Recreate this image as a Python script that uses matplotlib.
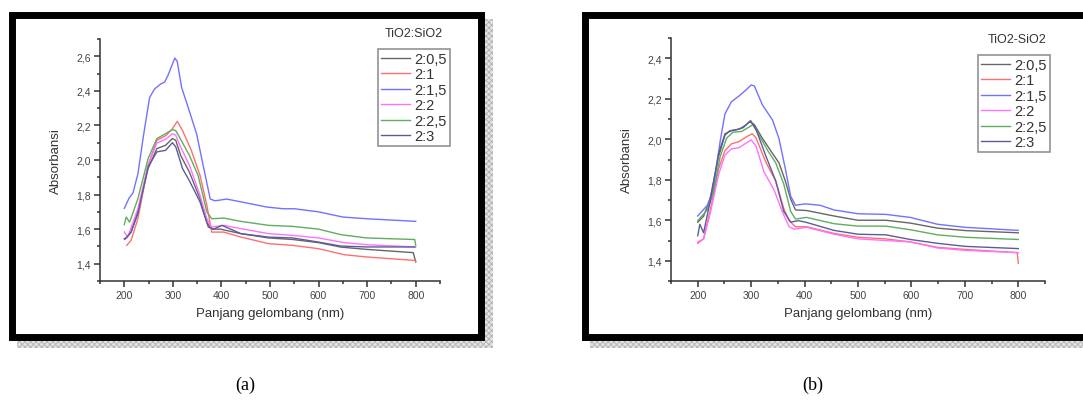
import matplotlib
matplotlib.use('Agg')
import matplotlib.pyplot as plt
from matplotlib.patches import Rectangle

'''
Data (read from the picture)
'''
labels = ['2:0,5', '2:1', '2:1,5', '2:2', '2:2,5', '2:3']
colors = ['#666666', '#ff6f6f', '#7272ff', '#ff72ff', '#5fae5f', '#5c5c9c']

# panel (a)  TiO2:SiO2
a05_x = [200, 205, 214, 228, 249, 267, 285, 299, 306, 316, 334, 356, 370, 380, 398, 440, 497, 547, 600, 646, 699, 795, 800]
a05_y = [1.545, 1.55, 1.583, 1.70, 1.95, 2.066, 2.085, 2.124, 2.114, 2.027, 1.93, 1.776, 1.64, 1.60, 1.60, 1.574, 1.549, 1.54, 1.522, 1.496, 1.483, 1.464, 1.41]
a1_x = [205, 214, 228, 249, 267, 285, 299, 309, 320, 338, 356, 370, 380, 405, 440, 497, 547, 600, 653, 699, 798, 800]
a1_y = [1.506, 1.535, 1.66, 1.97, 2.114, 2.14, 2.18, 2.224, 2.17, 2.056, 1.91, 1.738, 1.583, 1.583, 1.554, 1.516, 1.506, 1.487, 1.452, 1.439, 1.419, 1.415]
a15_x = [200, 210, 218, 228, 240, 252, 262, 275, 283, 290, 304, 309, 318, 332, 349, 363, 377, 387, 411, 445, 493, 527, 550, 600, 650, 700, 800]
a15_y = [1.72, 1.78, 1.81, 1.92, 2.15, 2.36, 2.41, 2.44, 2.45, 2.49, 2.59, 2.57, 2.42, 2.30, 2.15, 1.96, 1.774, 1.764, 1.774, 1.755, 1.728, 1.718, 1.718, 1.70, 1.67, 1.66, 1.645]
a2_x = [200, 207, 228, 249, 267, 285, 299, 306, 316, 334, 356, 370, 380, 405, 440, 497, 547, 600, 653, 699, 798, 800]
a2_y = [1.583, 1.554, 1.718, 1.97, 2.098, 2.12, 2.152, 2.143, 2.075, 1.97, 1.795, 1.66, 1.612, 1.622, 1.603, 1.574, 1.564, 1.549, 1.522, 1.51, 1.497, 1.495]
a25_x = [200, 204, 211, 228, 249, 267, 285, 299, 306, 316, 334, 352, 370, 380, 405, 440, 497, 547, 600, 646, 699, 798, 800]
a25_y = [1.626, 1.67, 1.64, 1.776, 2.008, 2.124, 2.152, 2.176, 2.17, 2.12, 2.027, 1.91, 1.70, 1.66, 1.664, 1.645, 1.622, 1.616, 1.60, 1.568, 1.549, 1.54, 1.506]
a3_x = [201, 214, 228, 249, 267, 285, 299, 306, 320, 334, 356, 373, 384, 401, 440, 497, 547, 600, 646, 699, 798]
a3_y = [1.541, 1.583, 1.69, 1.96, 2.047, 2.056, 2.10, 2.076, 1.95, 1.88, 1.757, 1.612, 1.60, 1.622, 1.574, 1.554, 1.549, 1.525, 1.502, 1.497, 1.497]

# panel (b)  TiO2-SiO2
b05_x = [200, 211, 223, 239, 251, 260, 272, 285, 297, 306, 321, 340, 352, 364, 374, 383, 404, 455, 500, 552, 598, 649, 701, 800]
b05_y = [1.59, 1.62, 1.704, 1.914, 2.02, 2.042, 2.047, 2.057, 2.087, 2.072, 2.005, 1.93, 1.884, 1.794, 1.704, 1.651, 1.648, 1.621, 1.60, 1.60, 1.586, 1.561, 1.549, 1.538]
b1_x = [200, 211, 223, 239, 251, 263, 278, 291, 302, 309, 328, 346, 361, 371, 383, 404, 455, 500, 552, 598, 649, 701, 798, 800]
b1_y = [1.486, 1.508, 1.644, 1.854, 1.944, 1.977, 1.989, 2.012, 2.027, 2.007, 1.884, 1.794, 1.659, 1.598, 1.568, 1.568, 1.535, 1.516, 1.508, 1.493, 1.466, 1.456, 1.44, 1.388]
b15_x = [200, 208, 218, 229, 242, 251, 263, 278, 291, 300, 306, 321, 340, 352, 364, 374, 383, 401, 429, 455, 500, 552, 598, 649, 701, 800]
b15_y = [1.621, 1.644, 1.674, 1.749, 1.99, 2.125, 2.185, 2.215, 2.245, 2.268, 2.263, 2.17, 2.095, 2.004, 1.854, 1.719, 1.674, 1.681, 1.674, 1.651, 1.632, 1.629, 1.614, 1.58, 1.565, 1.55]
b2_x = [200, 211, 223, 239, 251, 263, 278, 291, 300, 309, 324, 343, 358, 371, 380, 404, 455, 500, 552, 598, 649, 701, 800]
b2_y = [1.493, 1.508, 1.629, 1.824, 1.922, 1.952, 1.959, 1.982, 1.997, 1.967, 1.839, 1.749, 1.644, 1.568, 1.556, 1.565, 1.531, 1.508, 1.50, 1.493, 1.463, 1.451, 1.44]
b25_x = [200, 218, 229, 242, 254, 266, 282, 294, 303, 315, 331, 346, 361, 374, 383, 404, 455, 500, 552, 598, 649, 701, 800]
b25_y = [1.598, 1.651, 1.734, 1.914, 2.005, 2.035, 2.038, 2.057, 2.072, 2.02, 1.944, 1.884, 1.779, 1.644, 1.606, 1.614, 1.583, 1.571, 1.571, 1.553, 1.528, 1.516, 1.505]
b3_x = [200, 204, 211, 223, 239, 251, 263, 278, 291, 299, 309, 328, 346, 361, 374, 389, 404, 455, 500, 552, 598, 649, 701, 800]
b3_y = [1.523, 1.58, 1.538, 1.689, 1.929, 2.027, 2.042, 2.05, 2.072, 2.092, 2.05, 1.914, 1.794, 1.644, 1.591, 1.598, 1.589, 1.55, 1.531, 1.528, 1.505, 1.486, 1.471, 1.46]

xticks = [200, 300, 400, 500, 600, 700, 800]
yticks_a = [1.4, 1.6, 1.8, 2.0, 2.2, 2.4, 2.6]
yticks_b = [1.4, 1.6, 1.8, 2.0, 2.2, 2.4]

series_a = [(a05_x, a05_y), (a1_x, a1_y), (a15_x, a15_y), (a2_x, a2_y), (a25_x, a25_y), (a3_x, a3_y)]
series_b = [(b05_x, b05_y), (b1_x, b1_y), (b15_x, b15_y), (b2_x, b2_y), (b25_x, b25_y), (b3_x, b3_y)]

'''
Figure
'''
W, H = 1083, 410
plt.rcParams['font.family'] = ['Liberation Sans', 'DejaVu Sans']
plt.rcParams['hatch.linewidth'] = 0.6
fig = plt.figure(figsize=(W / 100, H / 100), dpi=100)

# background layer in pixel coordinates: frames + shadows
bg = fig.add_axes([0, 0, 1, 1], zorder=-5)
bg.set_xlim(0, W)
bg.set_ylim(H, 0)
bg.axis('off')

for (x0, y0, x1, y1) in [(8, 12, 484, 341), (581, 12, 1100, 341)]:
    bg.add_patch(Rectangle((x0 + 9, y0 + 8), x1 - x0, y1 - y0, facecolor='#e4e4e4',
                           edgecolor='#b0b0b0', hatch='xxxxxx', lw=0))
    bg.add_patch(Rectangle((x0 + 3.5, y0 + 3.5), x1 - x0 - 7, y1 - y0 - 7,
                           facecolor='white', edgecolor='black', lw=5.0))

bg.text(245, 385, '(a)', fontsize=13, family='Liberation Serif', ha='center', va='center')
bg.text(813, 385, '(b)', fontsize=13, family='Liberation Serif', ha='center', va='center')


def panel(rect, series, yticks, ylim, title, leg_box):
    ax = fig.add_axes([rect[0] / W, 1 - rect[3] / H, (rect[2] - rect[0]) / W, (rect[3] - rect[1]) / H])
    ax.patch.set_alpha(0)
    for (x, y), c, lab in zip(series, colors, labels):
        ax.plot(x, y, color=c, lw=1.0, label=lab)
    ax.set_xlim(150, 850)
    ax.set_ylim(*ylim)
    for s in ['top', 'right']:
        ax.spines[s].set_visible(False)
    for s in ['left', 'bottom']:
        ax.spines[s].set_color('#333333')
        ax.spines[s].set_linewidth(1.1)
    ax.set_xticks(xticks)
    ax.set_xticklabels([str(v) for v in xticks])
    ax.set_xticks([v + 50 for v in [100] + xticks], minor=True)
    ax.set_yticks(yticks)
    ax.set_yticklabels([f'{v:.1f}'.replace('.', ',') for v in yticks])
    ax.set_yticks([round(v + 0.1, 2) for v in [yticks[0] - 0.2] + yticks], minor=True)
    ax.tick_params(which='major', direction='out', length=4, width=1.1, color='#333333',
                   labelsize=7.5, pad=2.5, labelcolor='#444444')
    ax.tick_params(which='minor', direction='out', length=2.5, width=1.1, color='#333333')
    ax.set_xlabel('Panjang gelombang (nm)', fontsize=9.5, color='#333333', labelpad=5)
    ax.set_ylabel('Absorbansi', fontsize=9.5, color='#333333', labelpad=10)

    lx0, ly0, lx1, ly1 = leg_box
    leg = ax.legend(loc='upper left', bbox_to_anchor=(lx0 / W, 1 - ly0 / H),
                    bbox_transform=fig.transFigure, fontsize=10.5, frameon=True,
                    fancybox=False, edgecolor='#777777', handlelength=2.0,
                    handletextpad=0.3, labelspacing=0.1, borderpad=0.2,
                    borderaxespad=0)
    leg.get_frame().set_linewidth(1.2)
    for t in leg.get_texts():
        t.set_color('#333333')
    fig.text((lx0 + lx1) / 2 / W, 1 - (ly0 - 16) / H, title, fontsize=9,
             color='#333333', ha='center', va='center')
    return ax


panel((100, 40, 440, 282), series_a, yticks_a, (1.3, 2.7), 'TiO2:SiO2', (378, 50, 450, 145))
panel((671, 39, 1045, 282), series_b, yticks_b, (1.3, 2.4), 'TiO2-SiO2', (978, 56, 1057, 153))

plt.savefig('out.png', dpi=100)
